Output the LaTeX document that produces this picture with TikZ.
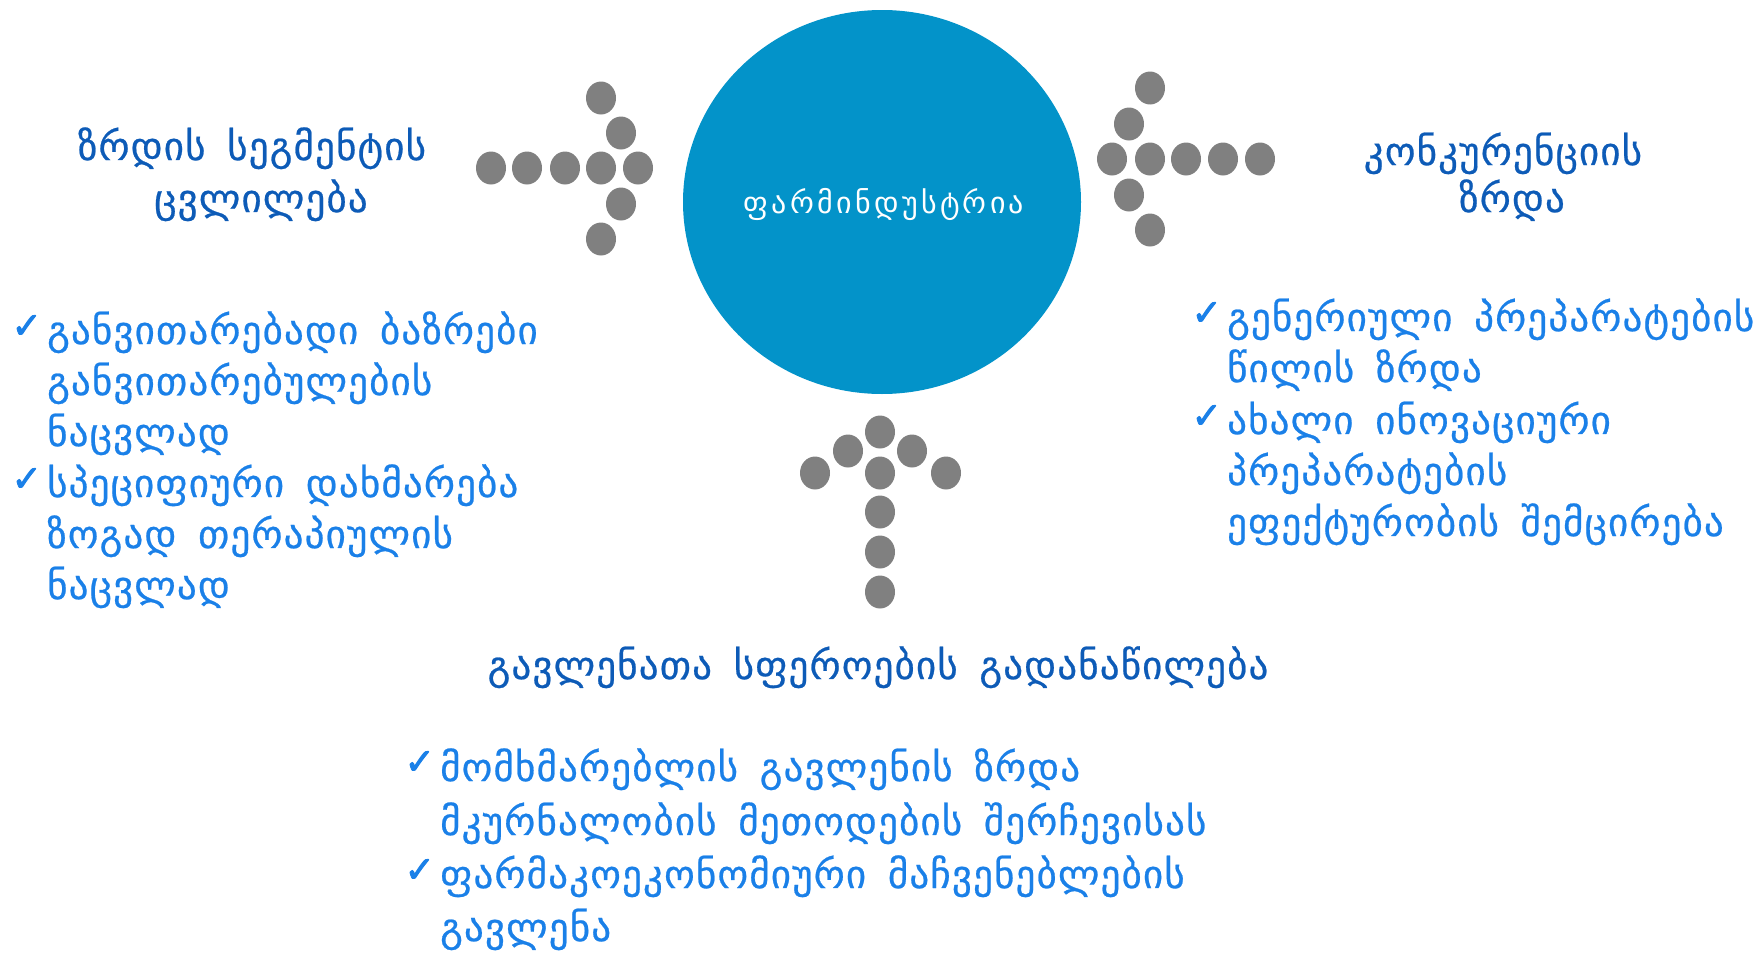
\documentclass[tikz,border=0pt]{standalone}
\usepackage{fontspec}
\setmainfont{DejaVu Sans}
\newfontfamily\geofont[LetterSpace=3,WordSpace=1.6,FakeBold=0.6]{DejaVu Sans}
\newfontfamily\circfont[LetterSpace=11]{DejaVu Sans}
\newfontfamily\checkfont[FakeBold=2.5]{DejaVu Sans}
\usetikzlibrary{shapes.geometric}
\definecolor{circblue}{HTML}{0393C9}
\definecolor{dotgray}{HTML}{808080}
\definecolor{titleblue}{HTML}{0D5BB7}
\definecolor{listblue}{HTML}{1A80E8}
\begin{document}
\begin{tikzpicture}[x=1pt,y=-1pt,
  dotnode/.style={ellipse,fill=dotgray,minimum width=30pt,minimum height=33pt,inner sep=0pt},
  titletext/.style={text=titleblue,font=\geofont\fontsize{39}{46}\selectfont,inner sep=0pt,anchor=base},
  listtext/.style={text=listblue,font=\geofont\fontsize{39}{46}\selectfont,inner sep=0pt,anchor=base west},
  checkmark/.style={text=listblue,font=\checkfont\fontsize{36}{42}\selectfont,inner sep=0pt,anchor=base east}]
\useasboundingbox (0,0) rectangle (1762,953);
% central circle
\node[ellipse,fill=circblue,minimum width=398pt,minimum height=384pt,inner sep=0pt] (hub) at (882,202) {};
\node[text=white,font=\circfont\fontsize{30}{36}\selectfont,inner sep=0pt,anchor=base] (hubtext) at (884,213) {ფარმინდუსტრია};
% left arrow (points right)
\foreach \n/\x/\y in {l1/491/168,l2/527/168,l3/565/168,l4/601/168,l5/638/168,
  l6/601/98,l7/621/133,l8/621/204,l9/601/239}
  \node[dotnode] (\n) at (\x,\y) {};
% right arrow (points left)
\foreach \n/\x/\y in {r1/1112/159,r2/1150/159,r3/1186/159,r4/1223/159,r5/1260/159,
  r6/1150/88,r7/1129/124,r8/1129/195,r9/1150/230}
  \node[dotnode] (\n) at (\x,\y) {};
% bottom arrow (points up)
\foreach \n/\x/\y in {b1/880/432,b2/848/451,b3/912/451,b4/815/473,b5/880/473,
  b6/946/473,b7/880/512,b8/880/552,b9/880/592}
  \node[dotnode] (\n) at (\x,\y) {};
% titles
\node[titletext] (lt1) at (252,160) {ზრდის სეგმენტის};
\node[titletext] (lt2) at (261,212) {ცვლილება};
\node[titletext] (rt1) at (1503,165) {კონკურენციის};
\node[titletext] (rt2) at (1512,212) {ზრდა};
\node[titletext] (bt) at (878,679) {გავლენათა სფეროების გადანაწილება};
% left list
\node[checkmark] (lc1) at (42,338) {✓};
\node[listtext] (la1) at (47,344) {განვითარებადი ბაზრები};
\node[listtext] (la2) at (47,395) {განვითარებულების};
\node[listtext] (la3) at (47,446) {ნაცვლად};
\node[checkmark] (lc2) at (42,491) {✓};
\node[listtext] (lb1) at (47,497) {სპეციფიური დახმარება};
\node[listtext] (lb2) at (47,548) {ზოგად თერაპიულის};
\node[listtext] (lb3) at (47,599) {ნაცვლად};
% right list
\node[checkmark] (rc1) at (1222,325) {✓};
\node[listtext] (ra1) at (1227,331) {გენერიული პრეპარატების};
\node[listtext] (ra2) at (1227,382) {წილის ზრდა};
\node[checkmark] (rc2) at (1222,428) {✓};
\node[listtext] (rb1) at (1227,434) {ახალი ინოვაციური};
\node[listtext] (rb2) at (1227,485) {პრეპარატების};
\node[listtext] (rb3) at (1227,536) {ეფექტურობის შემცირება};
% bottom list
\node[checkmark] (bc1) at (435,774) {✓};
\node[listtext] (ba1) at (440,781) {მომხმარებლის გავლენის ზრდა};
\node[listtext] (ba2) at (440,835) {მკურნალობის მეთოდების შერჩევისას};
\node[checkmark] (bc2) at (435,882) {✓};
\node[listtext] (bb1) at (440,888) {ფარმაკოეკონომიური მაჩვენებლების};
\node[listtext] (bb2) at (440,941) {გავლენა};
\end{tikzpicture}
\end{document}
